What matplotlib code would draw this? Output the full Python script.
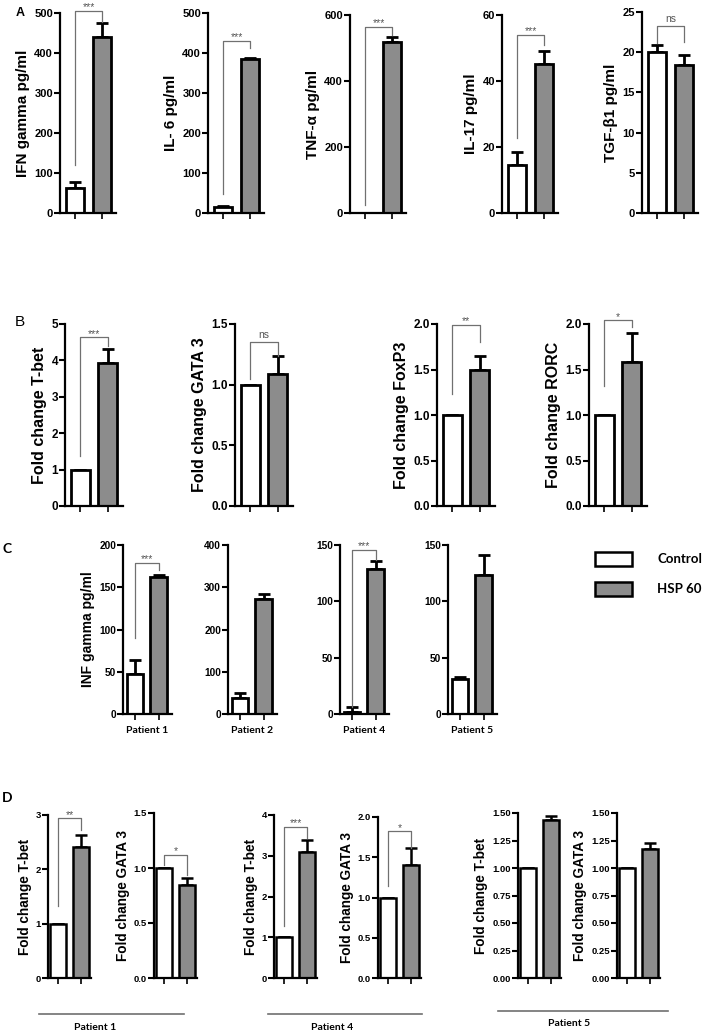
import matplotlib
matplotlib.use("Agg")
import matplotlib.pyplot as plt
from matplotlib.patches import Rectangle
from matplotlib.ticker import MultipleLocator, FormatStrFormatter
import numpy as np

W, H = 709, 1032
plt.rcParams['font.family'] = ['Liberation Sans', 'DejaVu Sans']

groups = ["Control", "HSP 60"]
group_colors = ["white", "#8c8c8c"]

# ---------------- Panel A : cytokines ----------------
A_labels = ["IFN gamma pg/ml", "IL- 6 pg/ml", "TNF-α pg/ml", "IL-17 pg/ml", "TGF-β1 pg/ml"]
A_control = [62, 15, 1, 14.5, 20.0]
A_control_err = [15, 3, 0, 3.9, 0.9]
A_hsp = [440, 385, 518, 45.3, 18.4]
A_hsp_err = [35, 3, 15, 3.9, 1.2]
A_ymax = [500, 500, 600, 60, 25]
A_step = [100, 100, 200, 20, 5]
A_sig = ["***", "***", "***", "***", "ns"]
A_bracket = [(120, 505, 478), (48, 430, 412), (25, 565, 538), (22.7, 54, 51), (21.2, 23.3, 21.3)]

# ---------------- Panel B : transcription factors ----------------
B_labels = ["Fold change T-bet", "Fold change GATA 3", "Fold change FoxP3", "Fold change RORC"]
B_control = [1.0, 1.0, 1.0, 1.0]
B_control_err = [0, 0, 0, 0]
B_hsp = [3.94, 1.09, 1.50, 1.58]
B_hsp_err = [0.37, 0.15, 0.15, 0.32]
B_ymax = [5, 1.5, 2.0, 2.0]
B_step = [1, 0.5, 0.5, 0.5]
B_fmt = ["%d", "%.1f", "%.1f", "%.1f"]
B_sig = ["***", "ns", "**", "*"]
B_bracket = [(1.38, 4.63, 4.40), (1.05, 1.35, 1.24), (1.23, 1.99, 1.80), (1.32, 2.04, 1.97)]

# ---------------- Panel C : IFN gamma per patient ----------------
C_patients = ["Patient 1", "Patient 2", "Patient 4", "Patient 5"]
C_control = [47, 37, 2, 31]
C_control_err = [17, 12, 4, 2]
C_hsp = [162, 273, 128.5, 123.5]
C_hsp_err = [2, 11, 7, 18]
C_ymax = [200, 400, 150, 150]
C_step = [50, 100, 50, 50]
C_sig = ["***", None, "***", None]
C_bracket = [(90, 179, 170), None, (6.5, 146, 137), None]

# ---------------- Panel D : T-bet / GATA 3 per patient ----------------
D_patients = ["Patient 1", "Patient 4", "Patient 5"]
D_labels = ["Fold change T-bet", "Fold change GATA 3"] * 3
D_control = [1.0, 1.0, 1.0, 1.0, 1.0, 1.0]
D_control_err = [0, 0, 0, 0, 0, 0]
D_hsp = [2.42, 0.85, 3.10, 1.40, 1.44, 1.17]
D_hsp_err = [0.21, 0.06, 0.29, 0.21, 0.03, 0.06]
D_ymax = [3, 1.5, 4, 2.0, 1.5, 1.5]
D_step = [1, 0.5, 1, 0.5, 0.25, 0.25]
D_fmt = ["%d", "%.1f", "%d", "%.1f", "%.2f", "%.2f"]
D_sig = ["**", "*", "***", "*", None, None]
D_bracket = [(1.32, 2.94, 2.72), (1.03, 1.118, 0.94), (1.27, 3.71, 3.43), (1.14, 1.82, 1.61), None, None]

fig = plt.figure(figsize=(W / 100, H / 100), dpi=100)
fig.patch.set_facecolor("white")


def make_ax(left, right, top, zero):
    return fig.add_axes([left / W, 1 - zero / H, (right - left) / W, (zero - top) / H])


def draw(ax, ctrl, cerr, hsp, herr, ymax, step, fmt, ylabel, label_fs, tick_fs,
         bracket, sig, xlim, barw, lw=2.0):
    x = np.arange(2)
    vals = [ctrl, hsp]
    errs = [cerr, herr]
    ax.errorbar(x, vals, yerr=[[0, 0], errs], fmt='none', ecolor='black',
                elinewidth=lw, capsize=4, capthick=lw, zorder=1)
    ax.bar(x, vals, width=barw, color=group_colors, edgecolor='black',
           linewidth=lw, zorder=2)
    ax.set_xlim(*xlim)
    ax.set_ylim(0, ymax)
    for s in ["top", "right"]:
        ax.spines[s].set_visible(False)
    for s in ["left", "bottom"]:
        ax.spines[s].set_linewidth(1.6)
    ax.set_xticks(x)
    ax.set_xticklabels([])
    ax.tick_params(axis='x', length=4, width=1.2, direction='out')
    ax.yaxis.set_major_locator(MultipleLocator(step))
    ax.yaxis.set_major_formatter(FormatStrFormatter(fmt))
    ax.tick_params(axis='y', length=4, width=1.5, labelsize=tick_fs, pad=1)
    for t in ax.get_yticklabels():
        t.set_fontweight('bold')
    if ylabel:
        ax.set_ylabel(ylabel, fontsize=label_fs, fontweight='bold', labelpad=3)
    if bracket is not None:
        lb, top, rb = bracket
        ax.plot([0, 0, 1, 1], [lb, top, top, rb], color='#707070', lw=0.9,
                clip_on=False, zorder=3)
        ax.annotate(sig, xy=(0.5, top), xytext=(0, 2.5 if sig != "ns" else 5),
                    textcoords='offset points', ha='center', va='center',
                    fontsize=7.5, color='#555555', annotation_clip=False)
    ax.patch.set_alpha(0)


# Panel A
A_left = [60, 208, 350, 502, 642]
A_top = [13, 13, 15, 15, 12]
for i in range(5):
    ax = make_ax(A_left[i], A_left[i] + 56, A_top[i], 213)
    draw(ax, A_control[i], A_control_err[i], A_hsp[i], A_hsp_err[i], A_ymax[i],
         A_step[i], "%d", A_labels[i], 11, 8, A_bracket[i], A_sig[i],
         (-0.55, 1.5), 0.65)

# Panel B
B_left = [65, 235, 437, 589]
for i in range(4):
    ax = make_ax(B_left[i], B_left[i] + 58, 324, 506)
    draw(ax, B_control[i], B_control_err[i], B_hsp[i], B_hsp_err[i], B_ymax[i],
         B_step[i], B_fmt[i], B_labels[i], 11.5, 8.5, B_bracket[i], B_sig[i],
         (-0.55, 1.55), 0.68)

# Panel C
C_left = [123, 228, 340, 448]
for i in range(4):
    ax = make_ax(C_left[i], C_left[i] + 49, 545, 714)
    draw(ax, C_control[i], C_control_err[i], C_hsp[i], C_hsp_err[i], C_ymax[i],
         C_step[i], "%d", "INF gamma pg/ml" if i == 0 else None, 10, 7.3,
         C_bracket[i], C_sig[i], (-0.5, 1.55), 0.7)
    ax.text(0.5, -0.07, C_patients[i], transform=ax.transAxes, ha='center',
            va='top', fontsize=7.5, fontweight='bold', family=['Lato', 'DejaVu Sans'])

# Panel D
D_left = [48, 154, 274, 378, 518, 617]
D_top = [815, 813, 815, 817, 813, 813]
for i in range(6):
    ax = make_ax(D_left[i], D_left[i] + 43, D_top[i], 978)
    draw(ax, D_control[i], D_control_err[i], D_hsp[i], D_hsp_err[i], D_ymax[i],
         D_step[i], D_fmt[i], D_labels[i], 9.8, 6.8, D_bracket[i], D_sig[i],
         (-0.45, 1.45), 0.68, lw=1.8)

# patient lines under panel D
D_line = [(39, 184, 1014), (268, 422, 1014), (498, 668, 1011)]
D_text_x = [95, 332, 569]
for (x0, x1, y), tx, name in zip(D_line, D_text_x, D_patients):
    fig.add_artist(plt.Line2D([x0 / W, x1 / W], [1 - y / H, 1 - y / H],
                              color='#707070', lw=1.2, transform=fig.transFigure))
    fig.text(tx / W, 1 - (y + 13) / H, name, ha='center', va='center',
             fontsize=7.5, fontweight='bold', family=['Lato', 'DejaVu Sans'])

# Legend
for k, (name, col) in enumerate(zip(groups, group_colors)):
    y0 = 552 + k * 30
    fig.add_artist(Rectangle((595 / W, 1 - (y0 + 14) / H), 37 / W, 14 / H,
                             facecolor=col, edgecolor='black', lw=1.8,
                             transform=fig.transFigure))
    fig.text(657 / W, 1 - (y0 + 7) / H, name, ha='left', va='center',
             fontsize=9.5, fontweight='bold', family=['Lato', 'DejaVu Sans'])

# Panel letters
fig.text(20 / W, 1 - 13 / H, "A", ha='center', va='center', fontsize=9, fontweight='bold')
fig.text(20 / W, 1 - 322 / H, "B", ha='center', va='center', fontsize=11)
fig.text(7 / W, 1 - 549 / H, "C", ha='center', va='center', fontsize=10, fontweight='bold',
         family=['Lato', 'DejaVu Sans'])
fig.text(7 / W, 1 - 798 / H, "D", ha='center', va='center', fontsize=10, fontweight='bold',
         family=['Lato', 'DejaVu Sans'])

fig.savefig("out.png", dpi=100, facecolor="white")
